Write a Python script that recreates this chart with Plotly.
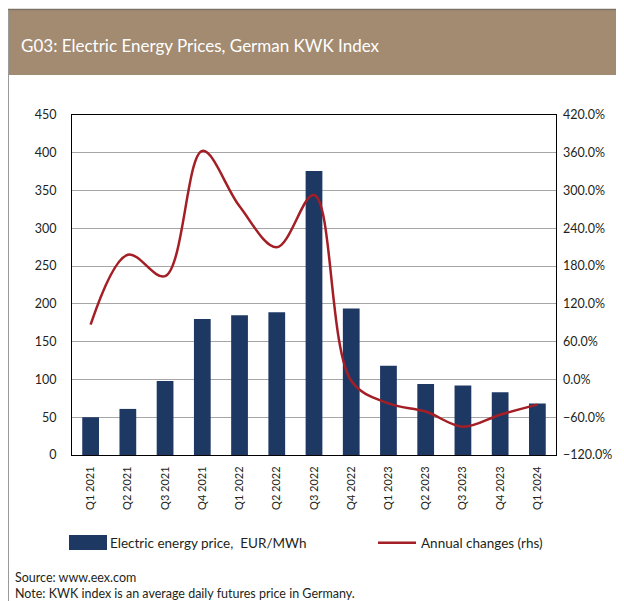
import plotly.graph_objects as go

categories = ["Q1 2021", "Q2 2021", "Q3 2021", "Q4 2021", "Q1 2022", "Q2 2022", "Q3 2022",
              "Q4 2022", "Q1 2023", "Q2 2023", "Q3 2023", "Q4 2023", "Q1 2024"]
price = [50, 61, 98, 180, 185, 189, 376, 194, 118, 94, 92, 83, 68]
annual_change = [87, 198, 164, 363, 275, 210, 293, -2, -38, -51, -75, -56, -40]

# the page body adds an 8px margin; work in reference pixels and offset
OFF = 8
W, H = 624 - OFF, 601 - OFF
L, R, T, B = 72, 556, 115, 455  # reference pixels of plot area

def px(x):
    return (x - L) / (R - L)

def py(y):
    return (B - y) / (B - T)

FONT = "Lato"
TXT = "#231f20"
BAR_COLOR = "#1e3864"

fig = go.Figure()
fig.add_trace(go.Bar(
    x=categories, y=price, name="Electric energy price,  EUR/MWh",
    marker=dict(color=BAR_COLOR, line=dict(width=0)), yaxis="y", legend="legend",
))
fig.add_trace(go.Scatter(
    x=categories, y=annual_change, name="Annual changes (rhs)", mode="lines",
    line=dict(color="#a31f25", width=2.5, shape="spline", smoothing=1.0), yaxis="y2",
    legend="legend2",
))

leg_common = dict(orientation="h", xanchor="left", yanchor="middle", itemwidth=38,
                  font=dict(family=FONT, size=13.5, color=TXT), bgcolor="rgba(0,0,0,0)")

fig.update_layout(
    width=W, height=H,
    margin=dict(l=L - OFF, r=W - (R - OFF), t=T - OFF, b=H - (B - OFF), autoexpand=False),
    paper_bgcolor="white", plot_bgcolor="white",
    font=dict(family=FONT, size=12, color=TXT),
    bargap=0.55,
    showlegend=True,
    legend=dict(x=px(62), y=py(543), **leg_common),
    legend2=dict(x=px(373), y=py(543), **leg_common),
    xaxis=dict(
        type="category", tickangle=-90, showgrid=False, ticks="", ticklabelstandoff=6,
        showline=True, linecolor="#000000", linewidth=1, mirror=True,
        tickfont=dict(family=FONT, size=11, color=TXT),
    ),
    yaxis=dict(
        range=[0, 450], dtick=50, tick0=0, showgrid=True, gridcolor="#a6a6a6", gridwidth=1,
        showline=True, linecolor="#000000", linewidth=1, mirror=True, ticks="",
        ticklabelstandoff=12, zeroline=False,
        tickfont=dict(family=FONT, size=12.5, color=TXT),
    ),
    yaxis2=dict(
        range=[-120, 420], dtick=60, tick0=-120, overlaying="y", side="right",
        showgrid=False, ticks="", tickformat=".1f", ticksuffix="%",
        ticklabelstandoff=6, zeroline=False, showline=False,
        tickfont=dict(family=FONT, size=12.5, color=TXT),
    ),
    shapes=[
        dict(type="rect", xref="paper", yref="paper", x0=px(7), x1=px(640), y0=py(75), y1=py(10),
             fillcolor="#a38b71", line=dict(width=0), layer="below"),
        dict(type="line", xref="paper", yref="paper", x0=px(7), x1=px(640), y0=py(9.5), y1=py(9.5),
             line=dict(color="#7d7266", width=1.5)),
        dict(type="line", xref="paper", yref="paper", x0=px(8.5), x1=px(8.5), y0=py(10), y1=py(610),
             line=dict(color="#9a9a9a", width=1)),
        # wide legend swatch for the bar series (as in the reference)
        dict(type="rect", xref="paper", yref="paper", x0=px(69), x1=px(107), y0=py(550), y1=py(535),
             fillcolor=BAR_COLOR, line=dict(width=0), layer="above"),
    ],
    annotations=[
        dict(text="G03: Electric Energy Prices, German KWK Index", xref="paper", yref="paper",
             x=px(19), y=py(45), xanchor="left", yanchor="middle", showarrow=False,
             font=dict(family=FONT, size=17, color="white")),
        dict(text="Source: www.eex.com", xref="paper", yref="paper",
             x=px(13), y=py(577), xanchor="left", yanchor="middle", showarrow=False,
             font=dict(family=FONT, size=12.5, color=TXT)),
        dict(text="Note: KWK index is an average daily futures price in Germany.", xref="paper", yref="paper",
             x=px(13), y=py(593), xanchor="left", yanchor="middle", showarrow=False,
             font=dict(family=FONT, size=12.5, color=TXT)),
    ],
)

fig.write_html("out.html")
